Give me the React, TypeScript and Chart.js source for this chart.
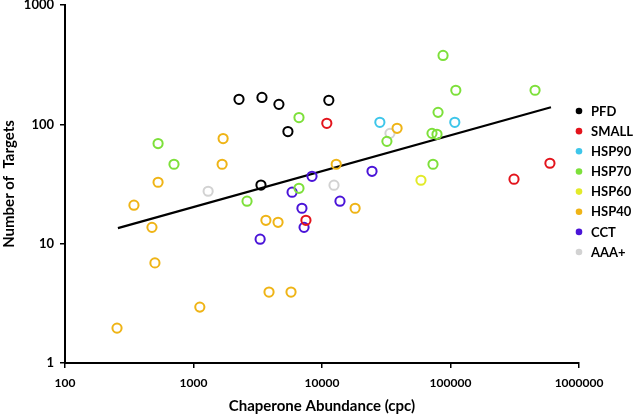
import React, { useEffect, useRef } from "react";
import { Chart, registerables } from "chart.js";

Chart.register(...registerables);

// ---- Data ----
const seriesNames = ["PFD", "SMALL", "HSP90", "HSP70", "HSP60", "HSP40", "CCT", "AAA+"];
const seriesColors = ["#000000", "#e3141c", "#3ec6ea", "#7de03a", "#e2ea2a", "#efb416", "#4a14d8", "#d2d2d2"];

const pfd = [[2260, 162], [3410, 168], [4620, 147], [11300, 159], [5430, 87], [3350, 31]];
const small = [[10900, 102], [7500, 15.7], [312000, 34.7], [594000, 47.2]];
const hsp90 = [[28200, 104], [108000, 104]];
const hsp70 = [
  [87500, 378], [110000, 193], [455000, 193], [80000, 126], [71800, 84], [78500, 82.5],
  [32000, 72], [6620, 114], [530, 69], [705, 46.3], [2610, 22.7], [6620, 29.1], [73100, 46.3],
];
const hsp60 = [[58900, 34]];
const hsp40 = [
  [1700, 76], [38400, 92.6], [1670, 46.3], [530, 32.7], [344, 21], [475, 13.7], [501, 6.9],
  [1120, 2.94], [3660, 15.7], [4550, 15.1], [3870, 3.93], [5740, 3.93], [12900, 46.3],
  [18100, 19.8], [254, 1.96],
];
const cct = [[8360, 36.7], [5850, 27], [6980, 19.8], [7250, 13.7], [13800, 22.7], [24500, 40.4], [3300, 10.9]];
const aaa = [[1300, 27.5], [12400, 30.9], [33800, 84]];

const trendX = [258, 605000];
const trendY = [13.5, 139];

const xTicks = [100, 1000, 10000, 100000, 1000000];
const yTicks = [1, 10, 100, 1000];

const seriesData = [pfd, small, hsp90, hsp70, hsp60, hsp40, cct, aaa];

const FONT = "Lato";

const legendPlugin = {
  id: "sideLegend",
  afterDraw(chart: any) {
    const ctx = chart.ctx;
    const area = chart.chartArea;
    const x = area.right;
    const y0 = area.top + 106;
    const step = 20.15;
    ctx.save();
    ctx.font = `bold 13px ${FONT}`;
    ctx.textBaseline = "middle";
    ctx.textAlign = "left";
    seriesNames.forEach((name, i) => {
      const y = y0 + i * step;
      ctx.beginPath();
      ctx.arc(x, y, 3.3, 0, Math.PI * 2);
      ctx.fillStyle = seriesColors[i];
      ctx.fill();
      ctx.fillStyle = "#000";
      ctx.fillText(name, x + 12, y + 0.5);
    });
    ctx.restore();
  },
};

export default function App() {
  const ref = useRef<HTMLCanvasElement | null>(null);

  useEffect(() => {
    if (!ref.current) return;
    const datasets: any[] = seriesNames.map((name, i) => ({
      label: name,
      data: seriesData[i].map(([x, y]) => ({ x, y })),
      borderColor: seriesColors[i],
      backgroundColor: "rgba(0,0,0,0)",
      pointRadius: 4.6,
      pointBorderWidth: 2,
      showLine: false,
      clip: false,
    }));
    datasets.push({
      label: "trend",
      data: trendX.map((x, i) => ({ x, y: trendY[i] })),
      borderColor: "#000",
      borderWidth: 2.2,
      pointRadius: 0,
      showLine: true,
    });

    const chart = new Chart(ref.current, {
      type: "scatter",
      data: { datasets },
      plugins: [legendPlugin],
      options: {
        animation: false,
        responsive: true,
        maintainAspectRatio: false,
        layout: { autoPadding: false, padding: { top: 5, right: 54, left: 0, bottom: 0 } },
        plugins: { legend: { display: false }, tooltip: { enabled: false } },
        scales: {
          x: {
            type: "logarithmic",
            min: 100,
            max: 1000000,
            afterBuildTicks: (s: any) => {
              s.ticks = xTicks.map((v) => ({ value: v }));
            },
            afterFit: (s: any) => {
              s.height = 51;
            },
            ticks: {
              callback: (v: any) => String(v),
              font: { family: FONT, weight: "bold", size: 12 },
              color: "#000",
              padding: 8,
              maxRotation: 0,
              autoSkip: false,
            },
            grid: { display: true, drawOnChartArea: false, drawTicks: true, tickLength: 5, color: "#000", lineWidth: 1.5 },
            border: { color: "#000", width: 2 },
            title: {
              display: true,
              text: "Chaperone Abundance (cpc)",
              font: { family: FONT, weight: "bold", size: 15, lineHeight: 1 },
              color: "#000",
              padding: { top: 0, bottom: 0.5 },
            },
          },
          y: {
            type: "logarithmic",
            min: 1,
            max: 1000,
            afterBuildTicks: (s: any) => {
              s.ticks = yTicks.map((v) => ({ value: v }));
            },
            afterFit: (s: any) => {
              s.width = 65;
              s.paddingTop = 0;
              s.paddingBottom = 0;
            },
            ticks: {
              callback: (v: any) => String(v),
              font: { family: FONT, weight: "bold", size: 13 },
              color: "#000",
              padding: 6,
              autoSkip: false,
            },
            grid: { display: true, drawOnChartArea: false, drawTicks: true, tickLength: 5, color: "#000", lineWidth: 1.5 },
            border: { color: "#000", width: 2 },
            title: {
              display: true,
              text: "Number of  Targets",
              font: { family: FONT, weight: "bold", size: 15, lineHeight: 1 },
              color: "#000",
              padding: { top: 1.5, bottom: 0 },
            },
          },
        },
      } as any,
    });
    return () => chart.destroy();
  }, []);

  return (
    <div style={{ position: "fixed", left: 0, top: 0, width: 633, height: 414, background: "#fff" }}>
      <canvas ref={ref} />
    </div>
  );
}
